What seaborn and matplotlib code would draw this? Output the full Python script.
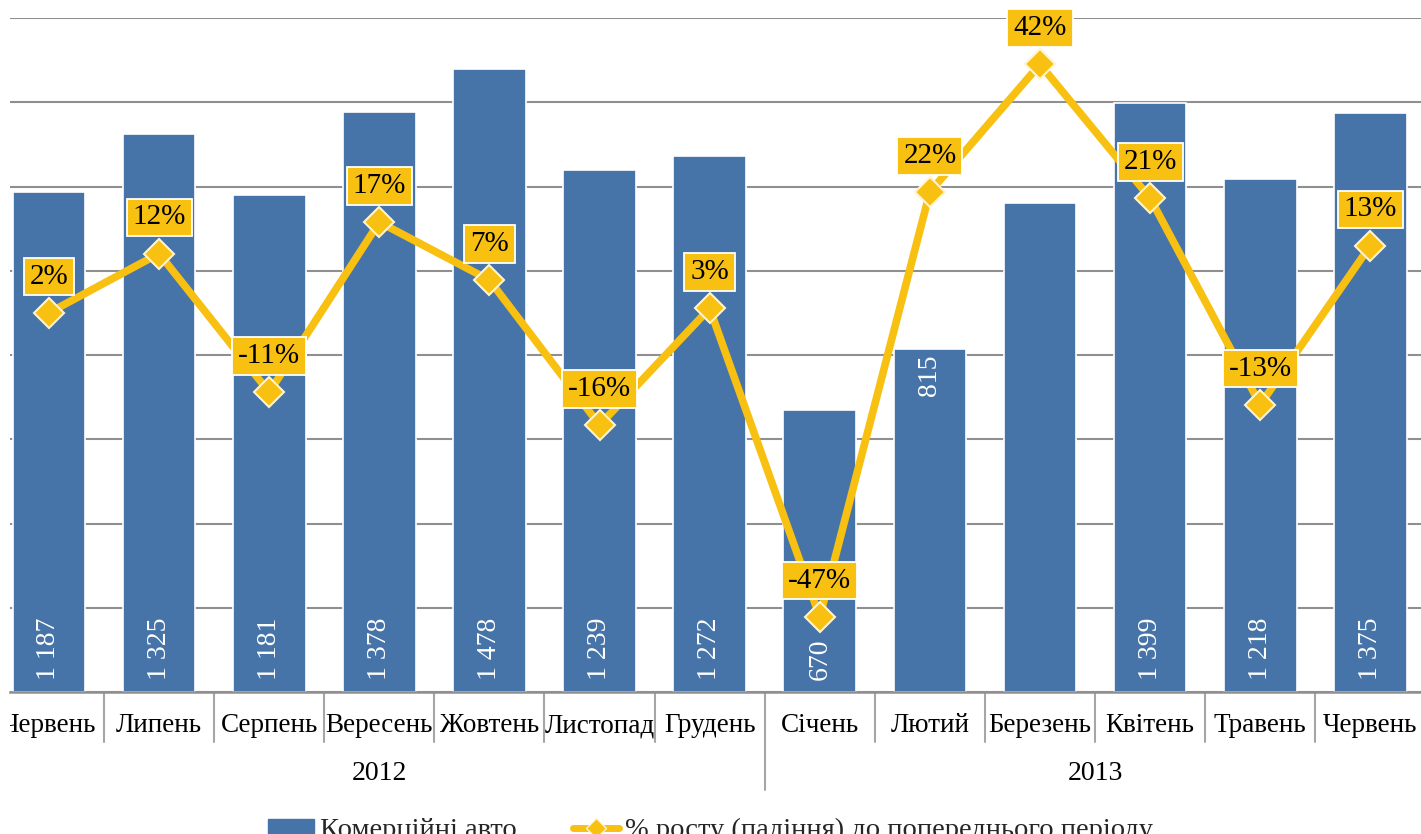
import numpy as np
import pandas as pd
import matplotlib
matplotlib.use("Agg")
import matplotlib.pyplot as plt
import seaborn as sns
from matplotlib.transforms import Bbox, TransformedBbox, blended_transform_factory
from matplotlib.patches import Patch
from matplotlib.lines import Line2D

# ---- data ----
months = ["Червень", "Липень", "Серпень", "Вересень", "Жовтень", "Листопад", "Грудень",
          "Січень", "Лютий", "Березень", "Квітень", "Травень", "Червень"]
years = ["2012"] * 7 + ["2013"] * 6
vehicles = [1187, 1325, 1181, 1378, 1478, 1239, 1272, 670, 815, 1160, 1399, 1218, 1375]
growth_pct = [2.0, 11.6, -10.9, 16.7, 7.3, -16.2, 2.7, -47.3, 21.6, 42.3, 20.6, -12.9, 12.9]
bar_label_pos = ["base"] * 8 + ["end", None] + ["base"] * 3
bar_name = "Комерційні авто"
line_name = "% росту (падіння) до попереднього періоду"

BLUE = "#4673A8"
YELLOW = "#F8C010"
FONT = "Liberation Serif"

sns.set_theme(style="white")
plt.rcParams["font.family"] = [FONT, "DejaVu Serif"]

W, H = 1421, 834
fig = plt.figure(figsize=(W / 100, H / 100), dpi=100)
ax_left, ax_right, ax_top, ax_bottom = 10, 1421, 18, 692
ax = fig.add_axes([ax_left / W, (H - ax_bottom) / H, (ax_right - ax_left) / W, (ax_bottom - ax_top) / H])

df = pd.DataFrame({"key": [f"{m} {y}" for m, y in zip(months, years)],
                   "value": vehicles, "pct": growth_pct})
n = len(df)

sns.barplot(data=df, x="key", y="value", color=BLUE, width=0.66, saturation=1,
            edgecolor="white", linewidth=1.2, ax=ax, zorder=2)

ax.set_ylim(0, 1600)
ax.set_yticks(np.arange(0, 1601, 200))
ax.set_yticklabels([])
ax.yaxis.grid(True, color="#8f8f8f", linewidth=1.5, zorder=0)
ax.set_axisbelow(True)
ax.set_xlim(-0.354, 12.46)
ax.set_xticks([])
ax.set_xlabel("")
ax.set_ylabel("")
for s in ["top", "left", "right"]:
    ax.spines[s].set_visible(False)
ax.spines["bottom"].set_color("#8f8f8f")
ax.spines["bottom"].set_linewidth(1.8)
ax.tick_params(axis="both", which="both", length=0, left=False, bottom=False)

# bar value labels
for i, (v, pos) in enumerate(zip(vehicles, bar_label_pos)):
    if pos is None:
        continue
    txt = f"{v:,}".replace(",", " ")
    if pos == "base":
        ax.annotate(txt, (i, 0), xytext=(0, 9), textcoords="offset points", rotation=90,
                    ha="center", va="bottom", color="white", fontsize=20, zorder=5)
    else:
        ax.annotate(txt, (i, v), xytext=(0, -4), textcoords="offset points", rotation=90,
                    ha="center", va="top", color="white", fontsize=20, zorder=5)

# category axis: month labels, separators, year labels
clip = TransformedBbox(Bbox([[ax_left / W, 0], [1, 1]]), fig.transFigure)
tr = blended_transform_factory(ax.transData, ax.transAxes)
ax_h = ax_bottom - ax_top
for i, m in enumerate(months):
    t = ax.text(i, -(726 - ax_bottom) / ax_h, m, transform=tr, ha="center", va="center",
                fontsize=19.5, color="black", clip_on=True)
    t.set_clip_box(clip)
for k in range(n - 1):
    b = k + 0.5
    end = 790 if k == 6 else 742
    ax.plot([b, b], [0, -(end - ax_bottom) / ax_h], transform=tr, color="#a6a6a6",
            linewidth=1.5, clip_on=False)
for yr in ["2012", "2013"]:
    idx = [i for i, y in enumerate(years) if y == yr]
    ax.text(np.mean(idx), -(773 - ax_bottom) / ax_h, yr, transform=tr, ha="center",
            va="center", fontsize=20, color="black")

# secondary axis: growth line
ax2 = ax.twinx()
ax2.set_zorder(ax.get_zorder() + 1)
ax2.patch.set_visible(False)
sns.lineplot(x=np.arange(n), y=growth_pct, ax=ax2, color=YELLOW, linewidth=5.5,
             marker="D", markersize=15, markerfacecolor=YELLOW, markeredgecolor="#FFF4CC",
             markeredgewidth=1.5, legend=False)
ax2.set_ylim(-59.5, 49.8)
ax2.set_xlim(-0.354, 12.46)
ax2.set_yticks([])
ax2.set_ylabel("")
ax2.tick_params(axis="both", which="both", length=0)
for s in ax2.spines.values():
    s.set_visible(False)

for i, v in enumerate(growth_pct):
    ax2.annotate(f"{round(v)}%", (i, v), xytext=(0, 26), textcoords="offset points",
                 ha="center", va="center", fontsize=21, color="black", zorder=10,
                 annotation_clip=False,
                 bbox=dict(boxstyle="square,pad=0.2", fc=YELLOW, ec="white", lw=1.3))

# legend (partly cut at bottom as in reference)
handles = [Patch(facecolor=BLUE, edgecolor=BLUE),
           Line2D([0], [0], color=YELLOW, lw=5, marker="D", markersize=10,
                  markerfacecolor=YELLOW, markeredgecolor="#FFF4CC")]
fig.legend(handles, [bar_name, line_name], loc="center", bbox_to_anchor=(0.5, 0.004),
           ncol=2, frameon=False, fontsize=20.5, handlelength=1.6, handleheight=0.45,
           handletextpad=0.2, columnspacing=2.0)

fig.savefig("out.png", dpi=100)
